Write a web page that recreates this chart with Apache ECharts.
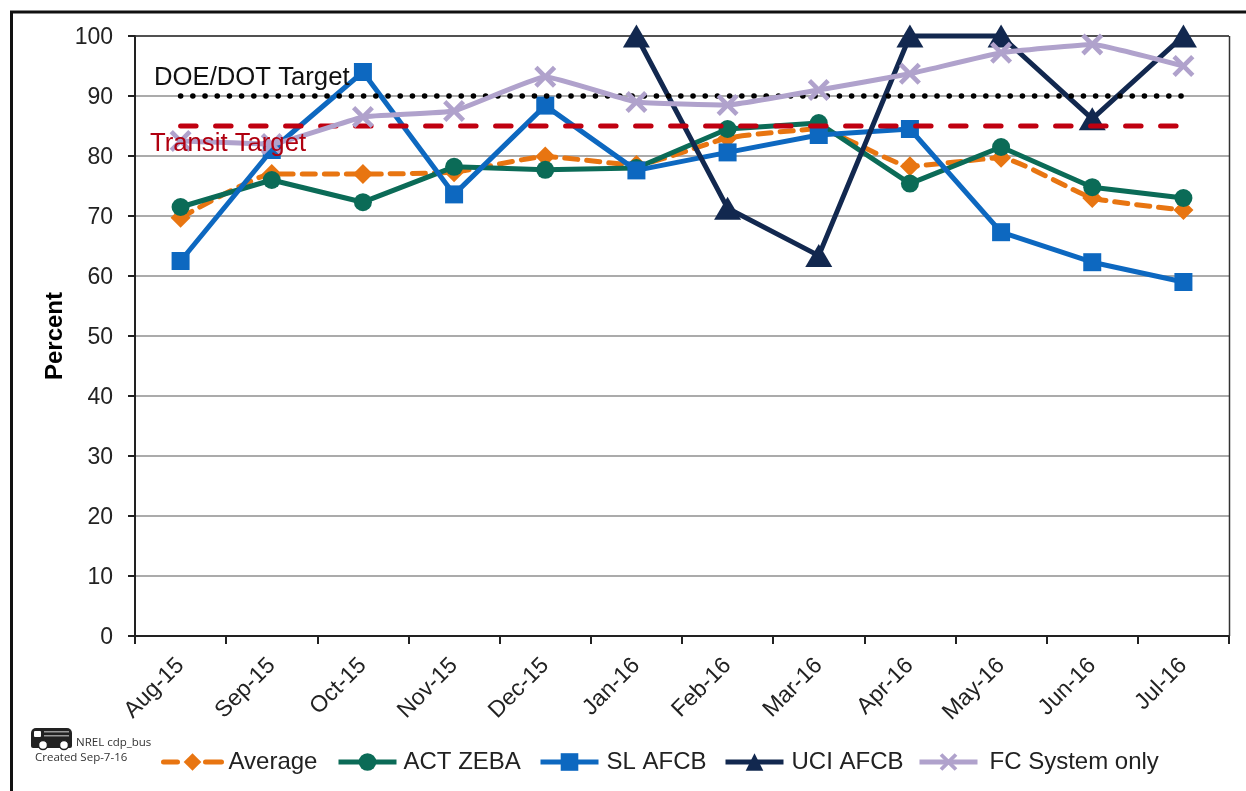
<!DOCTYPE html>
<html><head><meta charset="utf-8">
<style>html,body{margin:0;padding:0;background:#fff}#c{width:1246px;height:791px}</style>
<script src="https://cdn.jsdelivr.net/npm/echarts@6/dist/echarts.min.js"></script>
</head><body><div id="c"></div>
<script>
const categories = ['Aug-15','Sep-15','Oct-15','Nov-15','Dec-15','Jan-16','Feb-16','Mar-16','Apr-16','May-16','Jun-16','Jul-16'];
const average = [69.7,77,77,77.3,79.9,78.5,83,84.5,78.3,79.7,73,71];
const actZeba = [71.5,76,72.3,78.2,77.7,78,84.5,85.5,75.4,81.5,74.8,73];
const slAfcb = [62.5,81,94,73.6,88.4,77.6,80.6,83.5,84.5,67.3,62.3,59];
const uciAfcb = [null,null,null,null,null,100,71.3,63.4,100,100,86.2,100];
const fcSystem = [82.5,82,86.5,87.5,93.2,89,88.5,91,93.7,97.2,98.6,95];
const doeTarget = [90,90,90,90,90,90,90,90,90,90,90,90];
const transitTarget = [85,85,85,85,85,85,85,85,85,85,85,85];
const yTicks = {min:0,max:100,interval:10};

const F = '"Liberation Sans", Arial, sans-serif';
const XMARK = 'path://M3 0 L10 7 L17 0 L20 3 L13 10 L20 17 L17 20 L10 13 L3 20 L0 17 L7 10 L0 3 Z';
const line = (name,data,color,symbol,size,width,extra={}) => Object.assign({
  name,type:'line',data,symbol,symbolSize:size,clip:false,connectNulls:false,
  itemStyle:{color,opacity:1},lineStyle:{color,width},emphasis:{disabled:true},animation:false
},extra);
const legendAt = (left,item,pad=2) => ({
  left,top:745,padding:5,itemWidth:58,itemHeight:22,
  lineStyle:{width:5},
  textStyle:{fontFamily:F,fontSize:24,color:'#222',padding:[0,0,0,pad]},
  data:[item]
});

const chart = echarts.init(document.getElementById('c'),null,{renderer:'canvas'});
chart.setOption({
  animation:false,
  backgroundColor:'#fff',
  grid:{left:135,right:17,top:36,bottom:155,containLabel:false,show:false},
  legend:[
    legendAt(156,{name:'Average',lineStyle:{type:[14,28,16],width:5,cap:'round'}}),
    legendAt(331,{name:'ACT ZEBA'}),
    legendAt(533,{name:'SL AFCB'},3),
    legendAt(718,{name:'UCI AFCB'},3),
    legendAt(912,{name:'FC System only'},7)
  ],
  xAxis:{
    type:'category',data:categories,boundaryGap:true,
    axisLine:{lineStyle:{color:'#222',width:2}},
    axisTick:{show:true,alignWithLabel:false,length:8,lineStyle:{color:'#222',width:2}},
    axisLabel:{rotate:45,fontFamily:F,fontSize:23,color:'#222',margin:26,interval:0},
    splitLine:{show:false}
  },
  yAxis:{
    type:'value',min:yTicks.min,max:yTicks.max,interval:yTicks.interval,
    name:'Percent',nameLocation:'middle',nameGap:68,nameMoveOverlap:false,
    nameTextStyle:{fontFamily:F,fontSize:24,fontWeight:'bold',color:'#000'},
    axisLine:{show:true,lineStyle:{color:'#222',width:2}},
    axisTick:{show:true,inside:false,length:7,lineStyle:{color:'#222',width:2}},
    axisLabel:{margin:22,formatter:'{a|{value}}',rich:{a:{fontFamily:F,fontSize:23,color:'#222',padding:[4,0,0,0]}}},
    splitLine:{show:true,lineStyle:{color:'#8f8f8f',width:1.5}}
  },
  series:[
    line('Average',average,'#E87511','diamond',20,5,{smooth:0.15,z:3,lineStyle:{color:'#E87511',width:5,type:[13,9],cap:'round'}}),
    line('ACT ZEBA',actZeba,'#0B6B57','circle',18,5,{z:4}),
    line('SL AFCB',slAfcb,'#0D68C0','rect',18,5,{z:5}),
    line('UCI AFCB',uciAfcb,'#12284F','triangle',[27,23],5,{z:6}),
    line('Transit Target',transitTarget,'#C00010','none',0,5,{z:7,lineStyle:{color:'#C00010',width:5,type:[15.5,19.5],cap:'round'}}),
    line('DOE/DOT Target',doeTarget,'#000','none',0,5.5,{z:8,lineStyle:{color:'#000',width:5.5,type:[0.1,12.1],cap:'round'}}),
    line('FC System only',fcSystem,'#B0A2CC',XMARK,22,5,{smooth:0.1,z:9})
  ],
  graphic:[
    {type:'rect',z:1,silent:true,shape:{x:11.5,y:12,width:1300,height:900},style:{fill:'none',stroke:'#111',lineWidth:3}},
    {type:'text',z:20,silent:true,left:154,top:65,style:{text:'DOE/DOT Target',fontFamily:F,fontSize:25.7,fill:'#111'}},
    {type:'text',z:20,silent:true,left:150,top:131,style:{text:'Transit Target',fontFamily:F,fontSize:25.7,fill:'#B00010'}},
    {type:'rect',z:20,silent:true,shape:{x:31,y:728,width:41,height:20,r:[5,5,2,2]},style:{fill:'#222'}},
    {type:'rect',z:21,silent:true,shape:{x:34,y:731,width:7,height:6,r:1},style:{fill:'#fff'}},
    {type:'rect',z:21,silent:true,shape:{x:44,y:731,width:25,height:1.5},style:{fill:'#999'}},
    {type:'rect',z:21,silent:true,shape:{x:44,y:735,width:25,height:1.5},style:{fill:'#999'}},
    {type:'circle',z:22,silent:true,shape:{cx:43,cy:745,r:4.5},style:{fill:'#fff',stroke:'#222',lineWidth:1.5}},
    {type:'circle',z:22,silent:true,shape:{cx:64,cy:745,r:4.5},style:{fill:'#fff',stroke:'#222',lineWidth:1.5}},
    {type:'text',z:20,silent:true,left:76,top:737,style:{text:'NREL cdp_bus',fontFamily:'"Open Sans", sans-serif',fontSize:11.5,fill:'#333'}},
    {type:'text',z:20,silent:true,left:35,top:752,style:{text:'Created Sep-7-16',fontFamily:'"Open Sans", sans-serif',fontSize:11.5,fill:'#333'}},
    {type:'line',z:1,silent:true,shape:{x1:135,y1:36,x2:1229,y2:36},style:{stroke:'#333',lineWidth:1.5}},
    {type:'line',z:1,silent:true,shape:{x1:1229.5,y1:36,x2:1229.5,y2:636},style:{stroke:'#333',lineWidth:1.5}}
  ]
});
</script></body></html>
